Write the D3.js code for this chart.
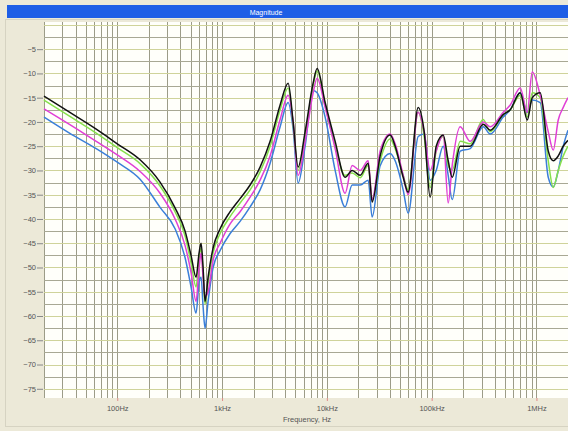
<!DOCTYPE html>
<meta charset="utf-8">
<script src="https://d3js.org/d3.v7.min.js"></script>
<style>
  body { margin: 0; background: #ece9d8; }
  text { font-family: "Liberation Sans", Arial, sans-serif; }
</style>
<svg id="mag" width="568" height="431"></svg>
<script>

// frequency points, Hz
var freqs = [20, 35, 63, 100, 165, 256, 356, 444, 506, 565, 604, 631, 659, 688, 736, 821, 958,
  1194, 1486, 1852, 2307, 2875, 3582, 4270, 4768, 5318, 6203, 7396, 8078, 9632, 12000, 14940,
  17430, 20790, 24780, 27060, 32260, 40200, 44860, 53480, 59700, 74380, 84860, 96840, 110500,
  128900, 143800, 157000, 187300, 233300, 310400, 362000, 481800, 562000, 700400, 816600,
  911600, 1086600, 1295600, 1446400, 1614000, 1802000, 2000000];

// magnitude, dB
var blackVals = [-14.7, -18, -21.5, -24.5, -27.8, -32.4, -37.7, -42.5, -47.5, -52, -47, -45, -50, -57,
  -52, -46, -42, -38.5, -35.8, -33, -29.3, -24, -16.5, -12, -20, -29.3, -22, -12, -9, -16, -24,
  -31.4, -30, -31, -28.5, -36.5, -27, -22.7, -25, -31.4, -34.5, -17, -22, -35.5, -25, -22.7, -28,
  -31.4, -25, -25, -20.5, -21.7, -18.5, -17.5, -14, -19.6, -15, -14, -26, -28, -27, -25, -23.8];
var greenVals = [-15.5, -18.8, -22.3, -25.3, -28.6, -33.2, -38.5, -43.5, -49, -54, -48, -46, -51, -57.5,
  -53, -47, -43, -39.5, -36.7, -34, -30.3, -25, -17.5, -13, -20.5, -30, -23, -12.5, -9.5, -16.5, -25,
  -31, -30.5, -31.5, -29, -36, -28, -23.5, -25.5, -31, -34, -18, -23, -33.5, -26, -23, -29, -30, -24,
  -24.5, -19.5, -22, -18.5, -17.5, -14.5, -19, -14, -15, -28, -33.5, -30, -27, -25];
var magentaVals = [-17.3, -20.5, -24, -26.8, -30.2, -34.7, -40, -45.5, -51, -57, -50, -47, -52, -56,
  -55, -48.5, -45, -41, -38.5, -35.5, -32, -27, -19.5, -14.5, -20, -31, -24, -14, -11, -17, -25.5,
  -34.7, -29, -30, -28, -36, -26, -22.5, -24.5, -31, -35, -18, -22, -30, -26, -22.7, -36.7, -29, -21,
  -24, -20, -21, -18, -16.5, -13, -18, -9.7, -14.5, -22, -25.8, -19.6, -17, -15];
var blueVals = [-19, -22.3, -25.5, -28.3, -31.8, -37.6, -42, -48, -54, -59.4, -53, -52, -58, -62.5,
  -57, -50, -46.5, -43, -40.5, -37.5, -34, -28.5, -21, -16, -21.5, -32.6, -25, -13.5, -14, -19, -30,
  -37.5, -33, -33, -32, -39.6, -29, -26.5, -28, -34, -38.8, -23, -22.5, -32, -30, -25, -31, -36, -26,
  -25.5, -21, -22.5, -19, -17.5, -14, -18, -15.5, -16, -31.4, -33.4, -30, -25, -21.7];

var seriesNames = ["blue", "green", "magenta", "black"];
var seriesColors = ["#3b7fd9", "#86e04c", "#e03fd6", "#111111"];
var seriesValues = [blueVals, greenVals, magentaVals, blackVals];

var yTickValues = [-5, -10, -15, -20, -25, -30, -35, -40, -45, -50, -55, -60, -65, -70, -75];
var xTickValues = [100, 1000, 10000, 100000, 1000000];
var xTickLabels = ["100Hz", "1kHz", "10kHz", "100kHz", "1MHz"];

var plot = {left: 44, right: 568, top: 22, bottom: 398};

var svg = d3.select("#mag");

// outer frame
svg.append("rect")
  .attr("x", 5.5).attr("y", 19.5).attr("width", 570).attr("height", 407)
  .attr("fill", "none").attr("stroke", "#d6d3c2");

// title bar
svg.append("rect")
  .attr("x", 7).attr("y", 5).attr("width", 561).attr("height", 13)
  .attr("fill", "#1e5ee6");
svg.append("text")
  .attr("x", 266).attr("y", 14.5)
  .attr("text-anchor", "middle")
  .attr("fill", "#ffffff")
  .attr("font-size", 7)
  .text("Magnitude");

var x = d3.scaleLog().domain([20, 2000000]).range([plot.left, plot.right]);
var y = d3.scaleLinear().domain([0.6, -76.9]).range([plot.top, plot.bottom]);

// plot background
svg.append("rect")
  .attr("x", plot.left).attr("y", plot.top)
  .attr("width", plot.right - plot.left).attr("height", plot.bottom - plot.top)
  .attr("fill", "#fffffa");

var grid = svg.append("g");

// vertical grid: 1..9 per decade
var vLines = [];
for (var d = 10; d <= 1000000; d *= 10) {
  for (var m = 1; m <= 9; m++) {
    var f = d * m;
    if (f >= 20 && f < 2000000) vLines.push(f);
  }
}
grid.selectAll(".vg").data(vLines).enter().append("line")
  .attr("x1", function(f) { return Math.round(x(f)) + 0.5; })
  .attr("x2", function(f) { return Math.round(x(f)) + 0.5; })
  .attr("y1", plot.top).attr("y2", plot.bottom)
  .attr("stroke", "#9c9c88").attr("stroke-width", 1);

// horizontal grid every 2.5 dB
var hLines = d3.range(0, -76, -2.5);
grid.selectAll(".hg").data(hLines).enter().append("line")
  .attr("x1", plot.left).attr("x2", plot.right)
  .attr("y1", function(v) { return Math.round(y(v)) + 0.5; })
  .attr("y2", function(v) { return Math.round(y(v)) + 0.5; })
  .attr("stroke", function(v) { return v % 5 === 0 ? "#cfd39a" : "#a8a894"; })
  .attr("stroke-width", 1);

// curves
var line = d3.line()
  .x(function(d) { return x(d[0]); })
  .y(function(d) { return y(d[1]); })
  .curve(d3.curveMonotoneX);

seriesValues.forEach(function(vals, i) {
  svg.append("path")
    .datum(freqs.map(function(f, k) { return [f, vals[k]]; }))
    .attr("class", "series-" + seriesNames[i])
    .attr("fill", "none")
    .attr("stroke", seriesColors[i])
    .attr("stroke-width", 1.5)
    .attr("stroke-linejoin", "round")
    .attr("d", line);
});

// y axis
var yAxis = svg.append("g")
  .attr("transform", "translate(" + plot.left + ",0)")
  .call(d3.axisLeft(y).tickValues(yTickValues).tickSize(6).tickPadding(2));
yAxis.select(".domain").remove();
yAxis.selectAll(".tick line").attr("stroke", "#888").attr("transform", "translate(-1,0)");
yAxis.selectAll(".tick text").attr("fill", "#555").attr("font-size", 7.5)
  .attr("font-family", "Liberation Sans, Arial, sans-serif");

// x axis
var xAxis = svg.append("g")
  .attr("transform", "translate(0," + plot.bottom + ")")
  .call(d3.axisBottom(x).tickValues(xTickValues).tickSize(3).tickPadding(5)
    .tickFormat(function(d, i) { return xTickLabels[i]; }));
xAxis.select(".domain").remove();
xAxis.selectAll(".tick line").attr("stroke", "#e08a8a");
xAxis.selectAll(".tick text").attr("fill", "#555").attr("font-size", 7.5)
  .attr("font-family", "Liberation Sans, Arial, sans-serif");

svg.append("text")
  .attr("x", 307).attr("y", 422)
  .attr("text-anchor", "middle")
  .attr("fill", "#555")
  .attr("font-size", 7.5)
  .text("Frequency, Hz");

</script>
